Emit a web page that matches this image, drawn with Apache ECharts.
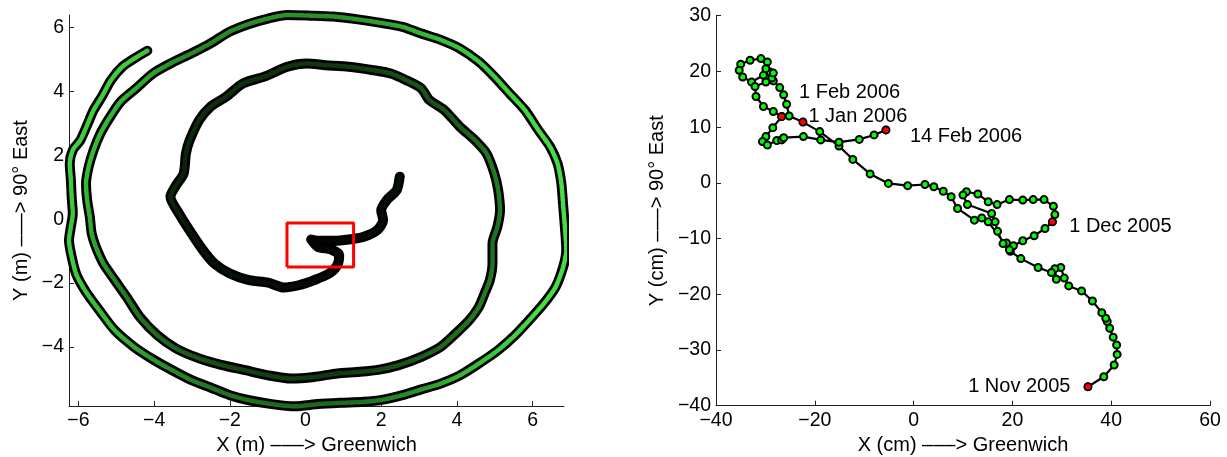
<!DOCTYPE html>
<html><head><meta charset="utf-8">
<script src="https://cdn.jsdelivr.net/npm/echarts@6/dist/echarts.min.js"></script>
<style>html,body{margin:0;padding:0;background:#fff}#c{width:1227px;height:457px}</style>
</head><body><div id="c"></div><script>
// ---------- left panel: spiral track (m) ----------
const spiralXY = [
[2.49,1.33],[2.41,0.91],[2.15,0.60],[2.00,0.28],[2.05,-0.03],[1.90,-0.34],[1.54,-0.55],[1.14,-0.64],[0.73,-0.68],[0.33,-0.68],
[0.15,-0.64],[0.33,-0.87],[0.68,-0.95],[0.89,-1.13],[0.84,-1.44],[0.63,-1.70],[0.23,-1.91],[-0.18,-2.07],[-0.58,-2.14],[-0.99,-1.99],
[-1.49,-1.91],[-2.00,-1.70],[-2.41,-1.39],[-2.71,-0.97],[-3.01,-0.45],[-3.32,0.13],[-3.57,0.70],[-3.42,1.06],[-3.22,1.43],[-3.16,2.06],
[-3.06,2.47],[-2.81,3.10],[-2.51,3.52],[-2.10,3.83],[-1.65,4.25],[-1.09,4.46],[-0.48,4.77],[0.03,4.87],[0.53,4.82],[1.14,4.77],
[1.75,4.67],[2.25,4.56],[2.66,4.35],[3.06,4.09],[3.27,3.73],[3.67,3.41],[4.08,2.89],[4.48,2.47],[4.78,2.06],[4.99,1.43],
[5.09,0.91],[5.14,0.28],[5.07,-0.24],[4.94,-0.76],[4.94,-1.39],[4.87,-1.91],[4.73,-2.33],[4.58,-2.75],[4.33,-3.16],[3.97,-3.58],
[3.57,-4.00],[3.06,-4.31],[2.46,-4.57],[1.95,-4.71],[1.44,-4.78],[0.84,-4.83],[0.23,-4.94],[-0.38,-4.99],[-0.99,-4.89],[-1.59,-4.73],
[-2.20,-4.57],[-2.81,-4.36],[-3.42,-4.05],[-3.92,-3.63],[-4.38,-3.06],[-4.73,-2.43],[-5.04,-1.91],[-5.34,-1.39],[-5.54,-0.87],[-5.65,-0.45],
[-5.70,0.07],[-5.77,0.59],[-5.80,1.12],[-5.73,1.64],[-5.60,2.16],[-5.42,2.68],[-5.19,3.15],[-4.89,3.67],[-4.48,4.09],[-4.03,4.56],
[-3.52,4.90],[-3.01,5.19],[-2.51,5.50],[-2.00,5.87],[-1.49,6.11],[-0.99,6.28],[-0.48,6.39],[0.13,6.37],[0.73,6.34],[1.34,6.26],
[1.95,6.15],[2.56,6.02],[3.06,5.81],[3.57,5.61],[4.08,5.34],[4.58,4.93],[4.99,4.46],[5.39,3.94],[5.80,3.41],[6.15,2.79],
[6.46,2.27],[6.66,1.74],[6.76,1.12],[6.81,0.39],[6.86,-0.34],[6.89,-0.97],[6.81,-1.49],[6.61,-2.12],[6.30,-2.64],[5.95,-3.11],
[5.54,-3.63],[5.09,-4.10],[4.58,-4.52],[4.08,-4.89],[3.57,-5.15],[3.06,-5.33],[2.56,-5.51],[2.05,-5.65],[1.54,-5.72],[0.94,-5.75],
[0.33,-5.79],[-0.28,-5.86],[-0.89,-5.79],[-1.49,-5.67],[-2.00,-5.51],[-2.51,-5.27],[-3.01,-5.04],[-3.52,-4.73],[-4.03,-4.39],[-4.53,-4.00],
[-5.04,-3.48],[-5.42,-2.90],[-5.80,-2.28],[-6.05,-1.75],[-6.17,-1.23],[-6.25,-0.66],[-6.20,-0.24],[-6.15,0.18],[-6.18,0.70],[-6.20,1.22],
[-6.23,1.74],[-6.15,2.16],[-5.95,2.47],[-5.75,3.00],[-5.60,3.41],[-5.36,3.88],[-5.14,4.35],[-4.84,4.77],[-4.48,5.06],[-4.18,5.27]
];
const boxX = [-0.49, 1.27];
const boxY = [-1.50, -0.12];
const leftXTicks = [-6,-4,-2,0,2,4,6];
const leftYTicks = [-4,-2,0,2,4,6];
const leftXRange = [-6.25, 6.83];
const leftYRange = [-5.85, 6.39];

// ---------- right panel: daily positions (cm), 1 Nov 2005 -> 14 Feb 2006 ----------
const traceXY = [
[35.3,-36.6],[38.5,-34.8],[40.6,-32.7],[41.2,-30.8],[41.1,-29.1],[40.4,-27.7],[39.7,-26.1],[39.2,-24.9],[38.9,-24.3],[38.1,-23.3],
[36.2,-21.2],[34.0,-19.4],[31.4,-18.5],[30.5,-17.1],[29.8,-15.2],[28.6,-15.4],[28.9,-17.3],[27.9,-16.1],[25.2,-15.2],[21.7,-13.6],
[19.6,-12.3],[18.8,-10.8],[20.2,-11.3],[22.1,-10.4],[24.4,-9.5],[26.6,-8.2],[28.1,-7.0],[28.6,-5.7],[28.3,-4.2],[26.4,-3.0],
[24.2,-3.0],[22.1,-3.1],[19.4,-3.0],[16.9,-3.9],[15.1,-3.4],[13.0,-2.0],[10.7,-1.6],[10.0,-2.2],[10.9,-3.9],[15.8,-5.5],
[16.5,-7.0],[17.0,-8.7],[18.1,-10.9],[19.4,-12.0],[15.1,-7.0],[13.8,-6.3],[12.3,-6.7],[8.9,-4.6],[7.6,-2.5],[6.0,-1.5],
[4.1,-0.7],[2.3,-0.3],[-1.2,-0.5],[-5.1,-0.1],[-8.8,1.6],[-12.3,4.2],[-15.1,6.6],[-19.0,9.2],[-22.4,10.9],[-25.2,12.0],
[-25.7,14.1],[-26.3,15.8],[-27.1,17.1],[-28.4,18.3],[-28.7,18.8],[-29.1,19.9],[-29.6,21.7],[-30.9,22.3],[-33.1,22.0],[-35.0,21.3],
[-35.3,20.2],[-34.6,19.0],[-32.8,18.1],[-30.4,19.3],[-29.9,20.5],[-28.4,19.7],[-29.9,18.1],[-32.1,17.3],[-31.9,15.5],[-30.4,13.7],
[-28.4,12.8],[-26.7,11.9],[-28.5,9.9],[-29.9,8.3],[-30.6,7.4],[-29.6,6.8],[-27.7,7.6],[-26.7,7.7],[-26.3,8.1],[-22.3,8.3],
[-18.8,7.7],[-15.1,7.3],[-11.0,7.8],[-8.0,8.6],[-5.6,9.5]
];
const dateXY = [[35.3,-36.6],[28.1,-7.0],[-22.4,10.9],[-26.7,11.9],[-5.6,9.5]];
const noteText = ['1 Nov 2005','1 Dec 2005','1 Jan 2006','1 Feb 2006','14 Feb 2006'];
const noteXY = [[11.05,-36.6],[31.5,-7.75],[-21.3,11.9],[-23.2,16.2],[-0.75,8.3]];

const FONT = 'Liberation Sans, Arial, sans-serif';
const minus = v => (v < 0 ? '\u2212' + (-v) : String(v));
const tickStyle = {show:true, inside:true, length:5, lineStyle:{color:'#222', width:1}};
const lineAx = {show:true, onZero:false, lineStyle:{color:'#222', width:1}};
const lbl = (extra) => Object.assign({color:'#000', fontFamily:FONT, fontSize:19.5, margin:5, formatter:minus}, extra||{});
const nameStyle = {color:'#000', fontFamily:FONT, fontSize:20, verticalAlign:'middle'};

const chart = echarts.init(document.getElementById('c'), null, {renderer:'canvas'});
const boxPts = [[boxX[0],boxY[0]],[boxX[1],boxY[0]],[boxX[1],boxY[1]],[boxX[0],boxY[1]],[boxX[0],boxY[0]]];

chart.setOption({
  animation:false,
  backgroundColor:'#fff',
  grid:[
    {left:69, top:15, width:495, height:391, outerBoundsMode:'none', containLabel:false},
    {left:716, top:15.7, width:494, height:390, outerBoundsMode:'none', containLabel:false}
  ],
  xAxis:[
    {type:'value', gridIndex:0, min:leftXRange[0], max:leftXRange[1], axisLine:lineAx,
     axisTick:Object.assign({customValues:leftXTicks}, tickStyle),
     axisLabel:lbl({customValues:leftXTicks}), splitLine:{show:false},
     name:'X (m) \u2013\u2013\u2013> Greenwich', nameLocation:'middle', nameGap:37, nameTextStyle:nameStyle},
    {type:'value', gridIndex:1, min:-40, max:60, interval:20, axisLine:lineAx, axisTick:tickStyle,
     axisLabel:lbl(), splitLine:{show:false},
     name:'X (cm) \u2013\u2013\u2013> Greenwich', nameLocation:'middle', nameGap:37, nameTextStyle:nameStyle}
  ],
  yAxis:[
    {type:'value', gridIndex:0, min:leftYRange[0], max:leftYRange[1], axisLine:lineAx,
     axisTick:Object.assign({customValues:leftYTicks}, tickStyle),
     axisLabel:lbl({customValues:leftYTicks}), splitLine:{show:false},
     name:'Y (m) \u2013\u2013\u2013> 90\u00b0 East', nameLocation:'middle', nameGap:48, nameTextStyle:nameStyle},
    {type:'value', gridIndex:1, min:-40, max:30, interval:10, axisLine:lineAx, axisTick:tickStyle,
     axisLabel:lbl(), splitLine:{show:false},
     name:'Y (cm) \u2013\u2013\u2013> 90\u00b0 East', nameLocation:'middle', nameGap:59, nameTextStyle:nameStyle}
  ],
  series:[
    {type:'line', xAxisIndex:0, yAxisIndex:0, data:spiralXY, symbol:'none', smooth:0.25, clip:false, silent:true, z:2,
     lineStyle:{color:'#000', width:10, cap:'round', join:'round'}},
    {type:'line', xAxisIndex:0, yAxisIndex:0, data:spiralXY, symbol:'none', smooth:0.25, clip:false, silent:true, z:3,
     lineStyle:{width:4.5, cap:'round', join:'round', type:[3,1.5],
       color:{type:'radial', x:305, y:219, r:250, global:true, colorStops:[
         {offset:0, color:'#000000'},{offset:0.45, color:'#081408'},{offset:0.62, color:'#10340f'},
         {offset:0.76, color:'#1f6e1f'},{offset:0.88, color:'#33b833'},{offset:1, color:'#44dd44'}]}}},
    {type:'line', xAxisIndex:0, yAxisIndex:0, data:boxPts, symbol:'none', silent:true, z:5,
     lineStyle:{color:'#ff0000', width:3}},
    {type:'line', xAxisIndex:1, yAxisIndex:1, data:traceXY, symbol:'circle', symbolSize:7, silent:true, z:3,
     lineStyle:{color:'#000', width:2.2},
     itemStyle:{color:'#00ff00', borderColor:'#000', borderWidth:2, opacity:1}},
    {type:'scatter', xAxisIndex:1, yAxisIndex:1, data:dateXY, symbol:'circle', symbolSize:7, silent:true, z:4,
     itemStyle:{color:'#ff0000', borderColor:'#000', borderWidth:1.5, opacity:1}},
    {type:'scatter', xAxisIndex:1, yAxisIndex:1, silent:true, z:5, symbolSize:0,
     itemStyle:{opacity:1},
     data:noteText.map((t,i)=>({name:t, value:noteXY[i]})),
     label:{show:true, position:'right', distance:0, formatter:'{b}', color:'#000', opacity:1, fontFamily:FONT, fontSize:20}}
  ]
});
</script></body></html>
